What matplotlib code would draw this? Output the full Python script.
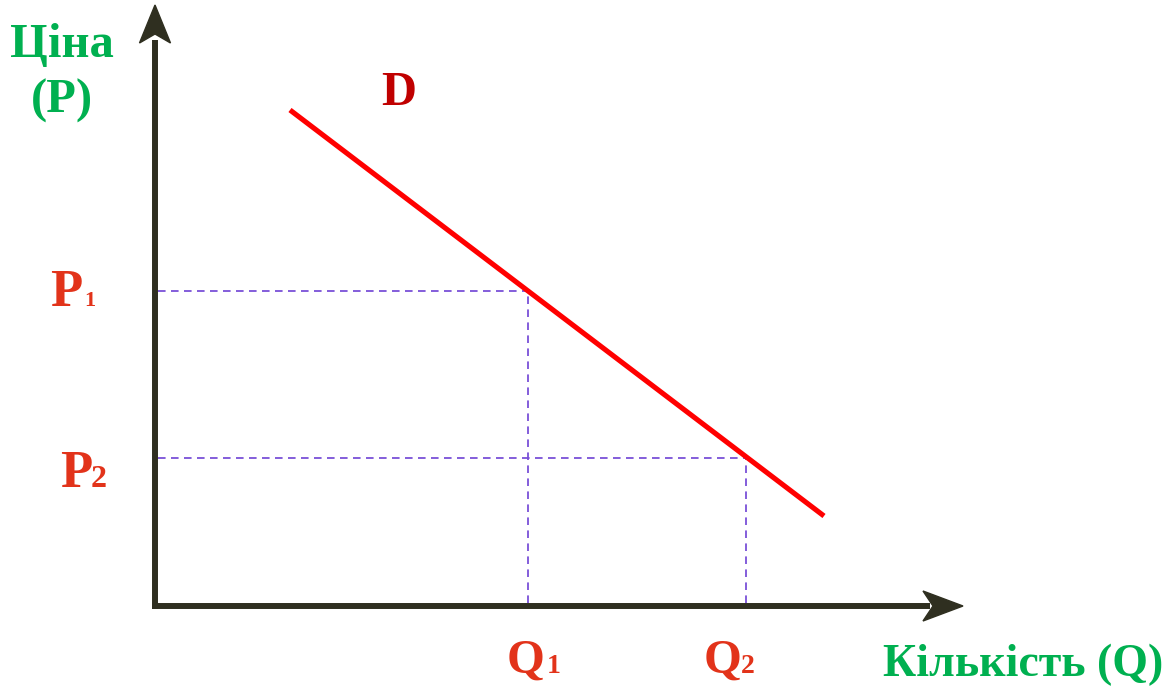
import matplotlib
matplotlib.use("Agg")
import matplotlib.pyplot as plt
from matplotlib.patches import Polygon

# -----------------------------
# DATA (1 unit = 100 px, origin at the axes corner)
# -----------------------------
demand_q = [1.35, 6.69]
demand_p = [4.96, 0.90]
q_points = [3.73, 5.91]
p_points = [3.15, 1.48]
q_labels = ["Q", "Q"]
q_subs = ["1", "2"]
p_labels = ["P", "P"]
p_subs = ["1", "2"]
curve_label = "D"
x_title = "Кількість (Q)"
y_title = ["Ціна", "(P)"]

# -----------------------------
# STYLE
# -----------------------------
GREEN = "#00B050"
LABEL_RED = "#E2331A"
D_RED = "#C00000"
LINE_RED = "#FF0000"
PURPLE = "#7A50D8"
AXIS = "#2F2F20"
FONT = "Liberation Serif"

W, H = 1167, 686
X0, Y0 = 155, 606     # pixel position of the origin


def px(x):
    return (x - X0) / 100


def py(y):
    return (Y0 - y) / 100


fig = plt.figure(figsize=(W / 100, H / 100), dpi=100, facecolor="white")
ax = fig.add_axes([0, 0, 1, 1])
ax.set_xlim(px(0), px(W))
ax.set_ylim(py(H), py(0))
ax.axis("off")

# -----------------------------
# AXES WITH ARROWS
# -----------------------------
x_tip = px(963)
y_tip = py(5)
ax.plot([px(152), px(930)], [0, 0], color=AXIS, lw=4.3, solid_capstyle="butt", zorder=3)
ax.plot([0, 0], [py(609), py(40)], color=AXIS, lw=4.3, solid_capstyle="butt", zorder=3)

# stealth-like arrowheads (length 0.39, half width 0.15, notch 0.09)
ax.add_patch(Polygon([(x_tip, 0), (x_tip - 0.40, 0.15), (x_tip - 0.30, 0),
                      (x_tip - 0.40, -0.15)], closed=True, color=AXIS, zorder=4))
ax.add_patch(Polygon([(0, y_tip), (-0.155, y_tip - 0.38), (0, y_tip - 0.29),
                      (0.155, y_tip - 0.38)], closed=True, color=AXIS, zorder=4))

# -----------------------------
# DEMAND CURVE AND GUIDES
# -----------------------------
ax.plot(demand_q, demand_p, color=LINE_RED, lw=3.7, solid_capstyle="butt", zorder=2)

for q, p in zip(q_points, p_points):
    ax.plot([0.03, q], [p, p], color=PURPLE, lw=1.3, dashes=(4.2, 3.0), zorder=1)
    ax.plot([q, q], [0.03, p], color=PURPLE, lw=1.3, dashes=(4.2, 3.0), zorder=1)

# -----------------------------
# TEXT
# -----------------------------
bold = dict(family=FONT, fontweight="bold")

ax.text(px(62), py(57), y_title[0], color=GREEN, fontsize=35, ha="center", va="baseline", **bold)
ax.text(px(62), py(113), y_title[1], color=GREEN, fontsize=35, ha="center", va="baseline", **bold)
ax.text(px(1163), py(676), x_title, color=GREEN, fontsize=33, ha="right", va="baseline", **bold)
ax.text(px(381), py(105), curve_label, color=D_RED, fontsize=35, ha="left", va="baseline", **bold)

# price labels
p_pos = [(50, 306, 84, 16), (60, 487, 91, 23)]
for (lab, sub), (xl, yb, xs, fs) in zip(zip(p_labels, p_subs), p_pos):
    ax.text(px(xl), py(yb), lab, color=LABEL_RED, fontsize=38, ha="left", va="baseline", **bold)
    ax.text(px(xs), py(yb), sub, color=LABEL_RED, fontsize=fs, ha="left", va="baseline", **bold)

# quantity labels
q_pos = [(507, 673, 547), (704, 673, 741)]
for (lab, sub), (xl, yb, xs) in zip(zip(q_labels, q_subs), q_pos):
    ax.text(px(xl), py(yb), lab, color=LABEL_RED, fontsize=35, ha="left", va="baseline", **bold)
    ax.text(px(xs), py(yb), sub, color=LABEL_RED, fontsize=20, ha="left", va="baseline", **bold)

fig.savefig("out.png", dpi=100, facecolor="white")
